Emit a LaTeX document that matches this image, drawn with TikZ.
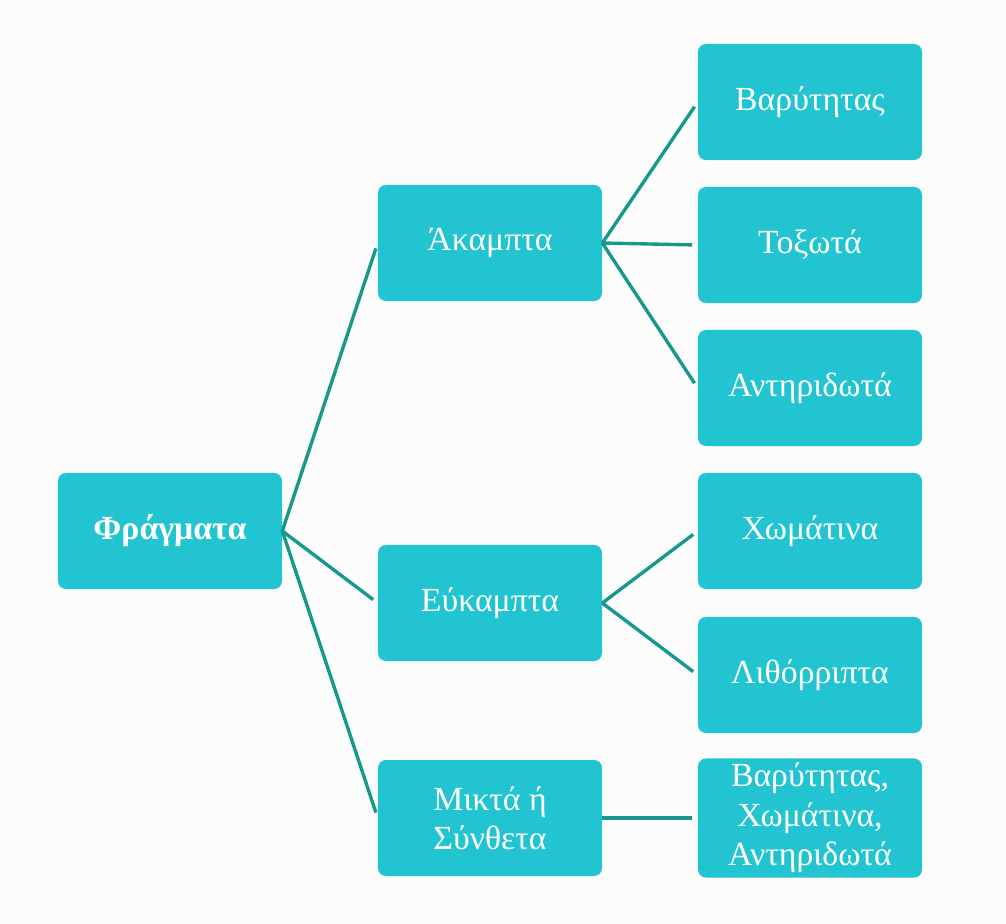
\documentclass[tikz,border=0pt]{standalone}
\usepackage{fontspec}
\setmainfont{Liberation Serif}
\usepackage{xcolor}
\usetikzlibrary{positioning}
\definecolor{boxteal}{RGB}{33,196,208}
\definecolor{linkteal}{RGB}{22,152,140}

\begin{document}
\begin{tikzpicture}[x=0.025cm, y=-0.025cm]
    % Define styles
    \tikzstyle{dambox} = [rectangle, rounded corners=0.2cm, fill=boxteal, text=white, minimum width=5.6cm, minimum height=2.9cm, font=\fontsize{24}{28}\selectfont, align=center]
    \tikzstyle{link} = [draw=linkteal, line width=2.4pt, shorten >=4pt]

    \fill[white!99!black] (0,0) rectangle (1006,923);
    \useasboundingbox (0,0) rectangle (1006,923);

    % Root
    \node[dambox, font=\fontsize{24}{28}\selectfont\bfseries] (fragm) at (170, 531) {Φράγματα};

    % Middle column
    \node[dambox] (akampta) at (490, 243) {Άκαμπτα};
    \node[dambox] (eukampta) at (490, 603) {Εύκαμπτα};
    \node[dambox] (mikta) at (490, 818) {Μικτά ή\\Σύνθετα};

    % Right column
    \node[dambox] (barytitas) at (810, 102) {Βαρύτητας};
    \node[dambox] (toxota) at (810, 245) {Τοξωτά};
    \node[dambox] (antiridota) at (810, 388) {Αντηριδωτά};
    \node[dambox] (chomatina) at (810, 531) {Χωμάτινα};
    \node[dambox] (lithorripta) at (810, 675) {Λιθόρριπτα};
    \node[dambox] (synthesi) at (810, 818) {Βαρύτητας,\\Χωμάτινα,\\Αντηριδωτά};

    % Connectors
    \draw[link] (fragm.east) -- (akampta.west);
    \draw[link] (fragm.east) -- (eukampta.west);
    \draw[link] (fragm.east) -- (mikta.west);

    \draw[link] (akampta.east) -- (barytitas.west);
    \draw[link] (akampta.east) -- (toxota.west);
    \draw[link] (akampta.east) -- (antiridota.west);

    \draw[link] (eukampta.east) -- (chomatina.west);
    \draw[link] (eukampta.east) -- (lithorripta.west);

    \draw[link] (mikta.east) -- (synthesi.west);
\end{tikzpicture}
\end{document}
